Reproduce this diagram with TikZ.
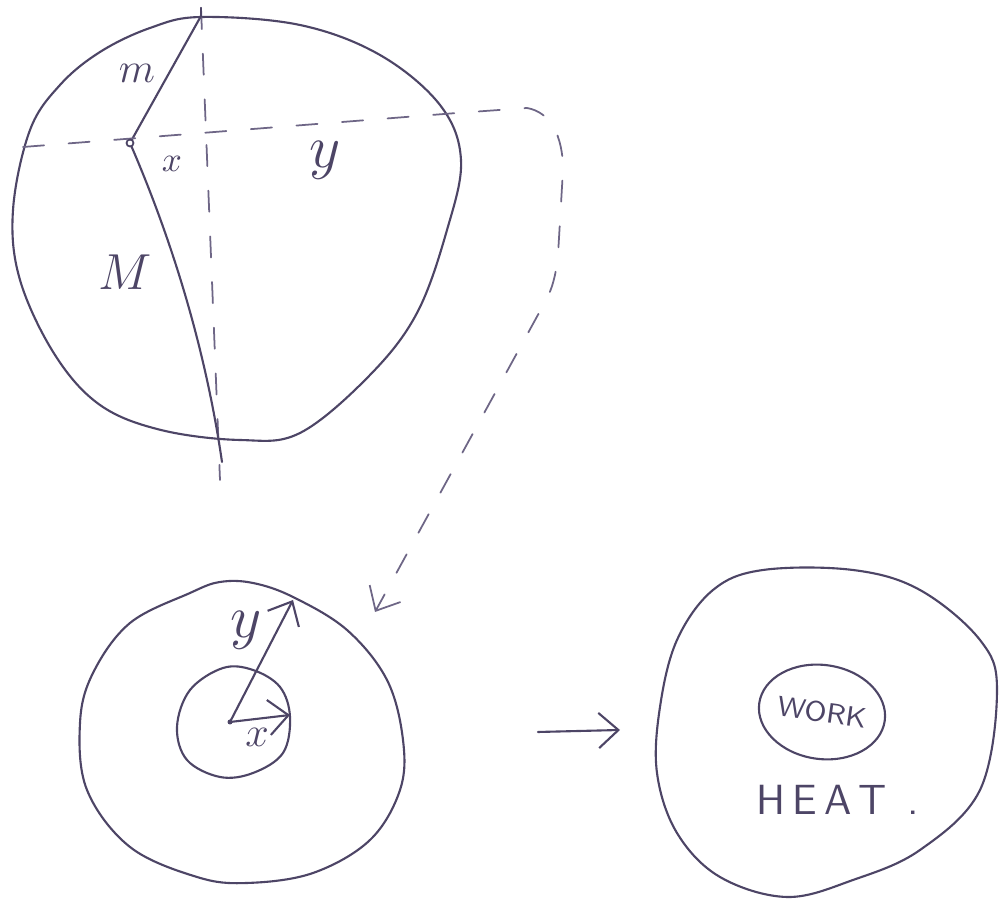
\documentclass[tikz,border=0pt]{standalone}
\usepackage{tikz}
\usetikzlibrary{arrows.meta,calc,shapes.geometric}
\definecolor{sketchink}{HTML}{4D4566}
\definecolor{sketchdash}{HTML}{6E6686}
\begin{document}
\begin{tikzpicture}[x=0.01cm,y=-0.01cm,line cap=round,line join=round,
  >={Straight Barb[length=5.6pt,width=10pt]},
  ink/.style={sketchink,line width=0.6pt},
  guide/.style={sketchdash,line width=0.5pt,dash pattern=on 6pt off 7pt},
  lbl/.style={text=sketchink,inner sep=1pt}]
\path[use as bounding box] (0,0) rectangle (999,907);
\fill[white] (0,0) rectangle (999,907);
% obere Scheibe
\coordinate (vtop) at (201,8);
\coordinate (vbot) at (220,480);
\coordinate (top) at (201,16);
\coordinate (piv) at (130,143);
\coordinate (bot) at (222,462);
\coordinate (hl) at (23,147);
\coordinate (dend) at (375,612);
\draw[ink] plot[smooth cycle,tension=0.6] coordinates {
  (201,17) (300,25) (380,55) (440,105) (461,160) (447,230) (417,313)
  (370,375) (300,433) (240,440) (161,430) (100,405) (55,355) (20,280)
  (13,210) (30,130) (60,85) (100,52) (150,28)};
\draw[guide] (vtop) -- (vbot);
\draw[ink] (vtop) -- (top);
\draw[ink] (top) -- (piv);
\draw[ink] (piv) .. controls (170,235) and (205,345) .. (bot);
\draw[guide,->] (hl) -- (457,113) -- (527,108)
  .. controls (550,112) and (563,135) .. (563,170) -- (558,255)
  .. controls (556,275) and (552,290) .. (545,302) -- (dend);
\draw[sketchink,line width=0.5pt,fill=white] (piv) circle[radius=3.5];
\node[lbl,font=\large] (mlbl) at (137,73) {$m$};
\node[lbl] (xlbl) at (172,164) {$x$};
\node[lbl,font=\LARGE] (ylbl) at (325,160) {$y$};
\node[lbl,font=\Large] (Mlbl) at (125,272) {$M$};
% Ringe unten links
\coordinate (ctr) at (230,722);
\coordinate (ytip) at (293,600);
\coordinate (xtip) at (290,715);
\draw[ink] plot[smooth cycle,tension=0.6] coordinates {
  (220,582) (190,593) (130,623) (93,673) (80,723) (87,790) (130,847)
  (197,877) (247,883) (313,873) (370,840) (400,790) (403,740) (387,680)
  (347,630) (293,597) (253,583)};
\draw[ink] plot[smooth cycle,tension=0.6] coordinates {
  (177,727) (190,690) (223,668) (253,670) (280,687) (290,717) (283,753)
  (253,773) (220,777) (187,760)};
\fill[sketchink] (ctr) circle[radius=2.5];
\draw[ink,->] (ctr) -- (ytip);
\draw[ink,->] (ctr) -- (xtip);
\node[lbl,font=\LARGE] (ylow) at (246,630) {$y$};
\node[lbl,font=\large] (xlow) at (257,737) {$x$};
% Pfeil und rechte Scheibe
\coordinate (al) at (538,732);
\coordinate (ar) at (620,730);
\draw[ink,->] (al) -- (ar);
\draw[ink] plot[smooth cycle,tension=0.6] coordinates {
  (763,570) (713,590) (677,640) (660,707) (657,773) (677,833) (720,877)
  (787,897) (853,880) (920,850) (980,790) (997,690) (980,640) (920,590)
  (853,570)};
\node[draw=sketchink,line width=0.6pt,ellipse,rotate=-8,minimum width=1.02cm,
  minimum height=0.94cm,inner sep=0pt,text=sketchink,font=\sffamily\footnotesize]
  (work) at (822,712) {WORK};
\node[lbl,font=\sffamily\large] (heat) at (838,800) {H\,E\,A\,T\hspace{0.5em}.};
\end{tikzpicture}
\end{document}
